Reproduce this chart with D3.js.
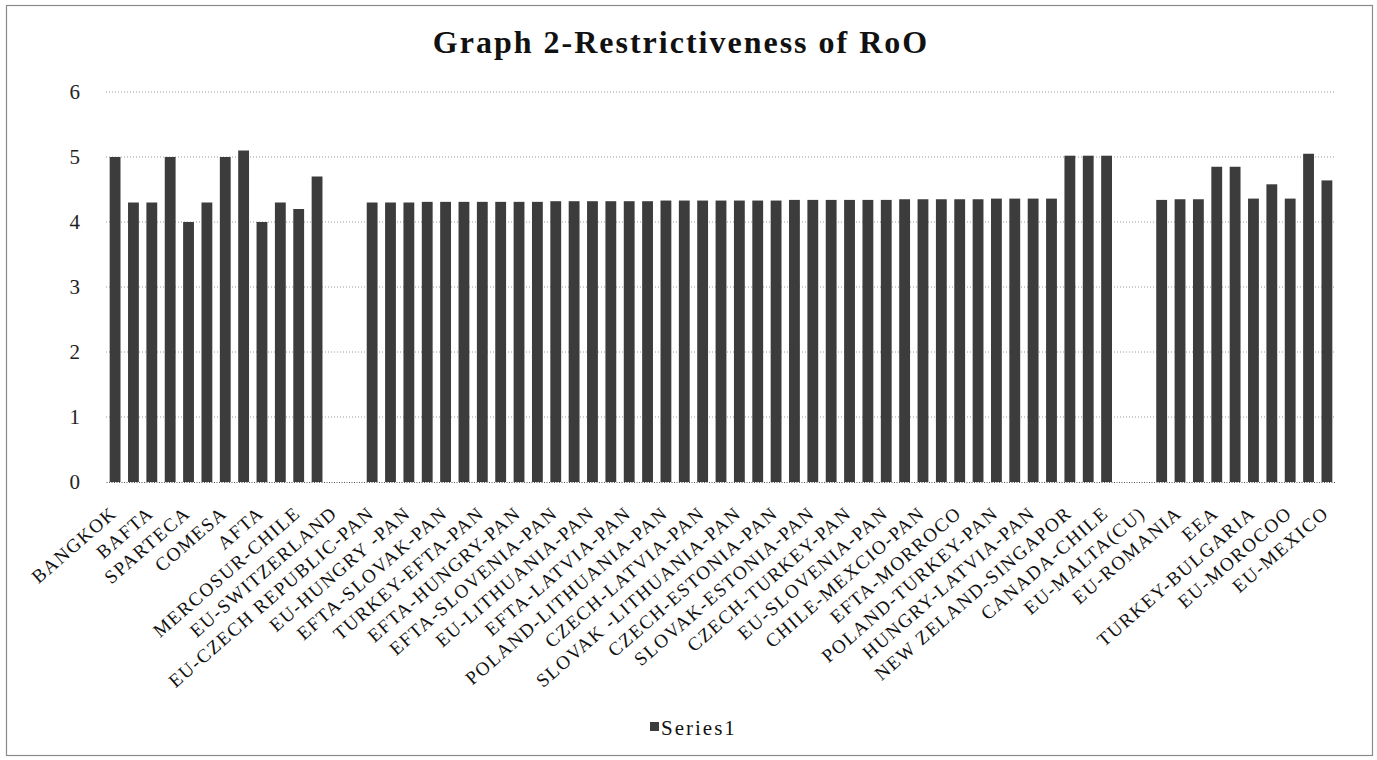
<!DOCTYPE html>
<html>
<head>
<meta charset="utf-8">
<script src="https://cdn.jsdelivr.net/npm/d3@7"></script>
<style>
  body { margin: 0; background: #fff; }
  svg text { font-family: "Liberation Serif", "Times New Roman", serif; }
</style>
</head>
<body>
<div id="plot"></div>
<script>
// 67 categories; only every other one is labelled in the picture,
// the unlabelled ones are left as empty names
const categories = [
  "BANGKOK", "", "BAFTA", "", "SPARTECA", "", "COMESA", "", "AFTA", "",
  "MERCOSUR-CHILE", "", "EU-SWITZERLAND", "", "EU-CZECH REPUBLIC-PAN", "",
  "EU-HUNGRY -PAN", "", "EFTA-SLOVAK-PAN", "", "TURKEY-EFTA-PAN", "",
  "EFTA-HUNGRY-PAN", "", "EFTA-SLOVENIA-PAN", "", "EU-LITHUANIA-PAN", "",
  "EFTA-LATVIA-PAN", "", "POLAND-LITHUANIA-PAN", "", "CZECH-LATVIA-PAN", "",
  "SLOVAK -LITHUANIA-PAN", "", "CZECH-ESTONIA-PAN", "", "SLOVAK-ESTONIA-PAN", "",
  "CZECH-TURKEY-PAN", "", "EU-SLOVENIA-PAN", "", "CHILE-MEXCIO-PAN", "",
  "EFTA-MORROCO", "", "POLAND-TURKEY-PAN", "", "HUNGRY-LATVIA-PAN", "",
  "NEW ZELAND-SINGAPOR", "", "CANADA-CHILE", "", "EU-MALTA(CU)", "",
  "EU-ROMANIA", "", "EEA", "", "TURKEY-BULGARIA", "", "EU-MOROCOO", "",
  "EU-MEXICO"
];

// Series1 values (null = no bar)
const series1 = [
  5.0, 4.3, 4.3, 5.0, 4.0, 4.3, 5.0, 5.1, 4.0, 4.3, 4.2, 4.7,
  null, null,
  4.30, 4.30, 4.30, 4.31, 4.31, 4.31, 4.31, 4.31, 4.31, 4.31,
  4.32, 4.32, 4.32, 4.32, 4.32, 4.32, 4.33, 4.33, 4.33, 4.33,
  4.33, 4.33, 4.33, 4.34, 4.34, 4.34, 4.34, 4.34, 4.34, 4.35,
  4.35, 4.35, 4.35, 4.35, 4.36, 4.36, 4.36, 4.36,
  5.02, 5.02, 5.02,
  null, null,
  4.34, 4.35, 4.35, 4.85, 4.85, 4.36, 4.58, 4.36, 5.05, 4.64
];

const yTicks = [0, 1, 2, 3, 4, 5, 6];
const title = "Graph 2-Restrictiveness of RoO";
const seriesName = "Series1";

const W = 1377, H = 760;
const margin = {top: 92, left: 106, right: 41, bottom: 278};
const width = W - margin.left - margin.right,
      height = H - margin.top - margin.bottom;

const svg = d3.select("#plot").append("svg")
    .attr("width", W)
    .attr("height", H);

// outer frame
svg.append("rect")
    .attr("x", 6.5).attr("y", 5.5)
    .attr("width", 1366).attr("height", 750)
    .attr("fill", "none")
    .attr("stroke", "#8a8a8a")
    .attr("stroke-width", 1.2);

svg.append("text")
    .attr("x", 681).attr("y", 53)
    .attr("text-anchor", "middle")
    .attr("font-size", 32)
    .attr("font-weight", "bold")
    .attr("letter-spacing", 2)
    .attr("fill", "#111")
    .text(title);

const g = svg.append("g")
    .attr("transform", `translate(${margin.left},${margin.top})`);

const x = d3.scaleBand()
    .domain(d3.range(categories.length))
    .range([0, width])
    .paddingInner(0.41)
    .paddingOuter(0.2);

const y = d3.scaleLinear()
    .domain([0, 6])
    .range([height, 0]);

// gridlines
g.append("g")
  .selectAll("line")
  .data(yTicks.filter(d => d > 0))
  .join("line")
    .attr("x1", 0).attr("x2", width)
    .attr("y1", d => y(d)).attr("y2", d => y(d))
    .attr("stroke", "#9a9a9a")
    .attr("stroke-width", 1)
    .attr("stroke-dasharray", "1,2");

// y axis labels
const yAxis = g.append("g")
    .call(d3.axisLeft(y).tickValues(yTicks).tickSize(0).tickPadding(26).tickFormat(d3.format("d")));
yAxis.select(".domain").remove();
yAxis.selectAll("text")
    .attr("font-size", 21)
    .attr("font-family", "Liberation Serif, serif")
    .attr("fill", "#222");

// bars
g.append("g")
  .selectAll("rect")
  .data(series1.map((v, i) => ({i, v})).filter(d => d.v !== null))
  .join("rect")
    .attr("x", d => x(d.i))
    .attr("y", d => y(d.v))
    .attr("width", x.bandwidth())
    .attr("height", d => height - y(d.v))
    .attr("fill", "#3c3c3c");

// x axis
const xAxis = g.append("g")
    .attr("transform", `translate(0,${height})`)
    .call(d3.axisBottom(x)
      .tickValues(d3.range(0, categories.length, 2))
      .tickSize(0)
      .tickFormat(i => categories[i]));
xAxis.select(".domain")
    .attr("stroke", "#555")
    .attr("stroke-dasharray", "1,1.5");
xAxis.selectAll("text")
    .attr("x", 0).attr("y", 0).attr("dy", 0)
    .attr("transform", "translate(3,33) rotate(-41)")
    .attr("text-anchor", "end")
    .attr("font-size", 19)
    .attr("letter-spacing", 1.5)
    .attr("font-family", "Liberation Serif, serif")
    .attr("fill", "#111");

// legend
const legend = svg.append("g").attr("transform", "translate(650,722)");
legend.append("rect")
    .attr("width", 9).attr("height", 9)
    .attr("fill", "#3c3c3c");
legend.append("text")
    .attr("x", 11).attr("y", 13)
    .attr("font-size", 21)
    .attr("letter-spacing", 2)
    .attr("fill", "#111")
    .text(seriesName);
</script>
</body>
</html>
